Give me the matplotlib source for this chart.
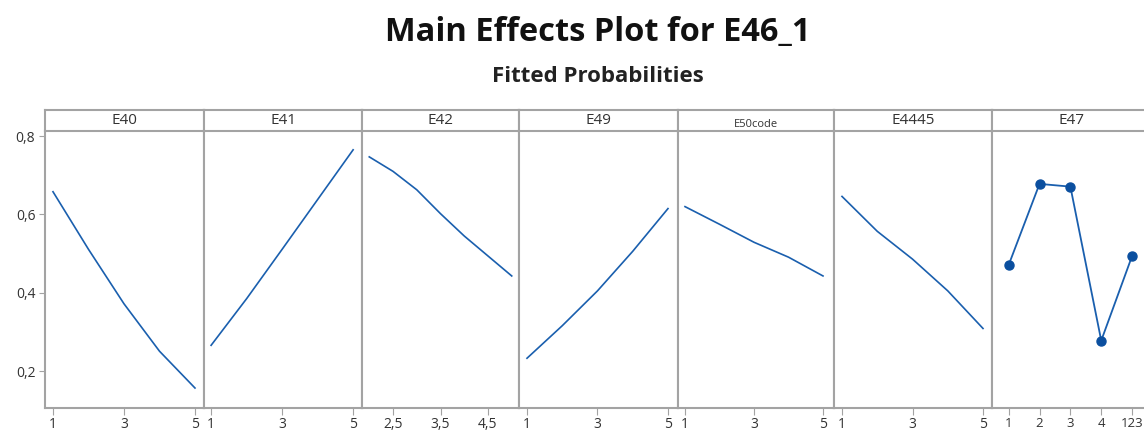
import matplotlib
matplotlib.use("Agg")
import matplotlib.pyplot as plt

# ---------------- data ----------------
factors = ["E40", "E41", "E42", "E49", "E50code", "E4445", "E47"]

x_int = [1, 2, 3, 4, 5]
e40_y = [0.658, 0.511, 0.372, 0.251, 0.157]
e41_y = [0.266, 0.385, 0.511, 0.638, 0.765]
e42_x = [2.0, 2.5, 3.0, 3.5, 4.0, 4.5, 5.0]
e42_y = [0.747, 0.710, 0.663, 0.602, 0.545, 0.494, 0.443]
e49_y = [0.233, 0.316, 0.405, 0.506, 0.615]
e50_y = [0.620, 0.575, 0.529, 0.491, 0.443]
e4445_y = [0.646, 0.557, 0.486, 0.405, 0.309]
e47_cats = ["1", "2", "3", "4", "123"]
e47_y = [0.471, 0.678, 0.671, 0.278, 0.494]

int_ticks = [1, 3, 5]
e42_ticks = [2.5, 3.5, 4.5]
e42_ticklabels = ["2,5", "3,5", "4,5"]
y_ticks = [0.2, 0.4, 0.6, 0.8]
y_ticklabels = ["0,2", "0,4", "0,6", "0,8"]

# ---------------- style ----------------
W, H = 1144, 430
fig = plt.figure(figsize=(W / 100, H / 100), dpi=100)
FONT = "Open Sans"
LINE = "#1a5fae"
MARK = "#0b4f9f"
FRAME = "#a3a3a3"
TXT = "#333333"

edges = [45, 204, 362, 519, 678, 834, 992, 1150]
top_strip, bot_strip = 110, 131
bottom = 408
ylim = (0.106, 0.813)

xlims = [(0.775, 5.254), (0.80, 5.25), (1.847, 5.153), (0.773, 5.284),
         (0.797, 5.319), (0.773, 5.255), (-0.54, 4.58)]

series = [
    (x_int, e40_y), (x_int, e41_y), (e42_x, e42_y), (x_int, e49_y),
    (x_int, e50_y), (x_int, e4445_y), (list(range(len(e47_cats))), e47_y),
]


def fx(px):
    return px / W


def fy(py):
    return 1 - py / H


for i, name in enumerate(factors):
    l, r = edges[i], edges[i + 1]
    ax = fig.add_axes([fx(l), fy(bottom), fx(r - l), (bottom - bot_strip) / H])
    xs, ys = series[i]
    if i == 6:
        ax.plot(xs, ys, color=LINE, lw=1.3, marker="o", ms=6.5,
                mfc=MARK, mec=MARK, clip_on=False, zorder=3)
        ax.set_xticks(xs)
        ax.set_xticklabels(e47_cats)
    else:
        ax.plot(xs, ys, color=LINE, lw=1.2)
        if i == 2:
            ax.set_xticks(e42_ticks)
            ax.set_xticklabels(e42_ticklabels)
        else:
            ax.set_xticks(int_ticks)
            ax.set_xticklabels([str(t) for t in int_ticks])
    ax.set_xlim(*xlims[i])
    ax.set_ylim(*ylim)
    ax.set_yticks(y_ticks)
    if i == 0:
        ax.set_yticklabels(y_ticklabels)
        ax.tick_params(axis="y", length=4, color=FRAME, labelsize=10,
                       labelcolor=TXT, pad=3)
    else:
        ax.tick_params(axis="y", left=False, labelleft=False)
    ax.tick_params(axis="x", length=5, color=FRAME,
                   labelsize=9.5 if i == 6 else 10,
                   labelcolor=TXT, pad=1.5)
    for lab in ax.get_xticklabels() + ax.get_yticklabels():
        lab.set_fontfamily(FONT)
    for s in ax.spines.values():
        s.set_color(FRAME)
        s.set_linewidth(1.5)
    ax.spines["top"].set_visible(False)

    # header strip
    hx = fig.add_axes([fx(l), fy(bot_strip), fx(r - l), (bot_strip - top_strip) / H])
    hx.set_xticks([])
    hx.set_yticks([])
    for s in hx.spines.values():
        s.set_color(FRAME)
        s.set_linewidth(1.5)
    if name == "E50code":
        hx.text(0.5, 0.3, name, ha="center", va="center", fontsize=8,
                color=TXT, family=FONT, transform=hx.transAxes)
    else:
        hx.text(0.5, 0.5, name, ha="center", va="center", fontsize=11,
                color=TXT, family=FONT, transform=hx.transAxes)

fig.text(fx(598), fy(33), "Main Effects Plot for E46_1", ha="center", va="center",
         fontsize=23.5, fontweight="bold", family=FONT, color="#111111")
fig.text(fx(598), fy(77), "Fitted Probabilities", ha="center", va="center",
         fontsize=16, fontweight="bold", family=FONT, color="#222222")

fig.savefig("out.png", dpi=100)
